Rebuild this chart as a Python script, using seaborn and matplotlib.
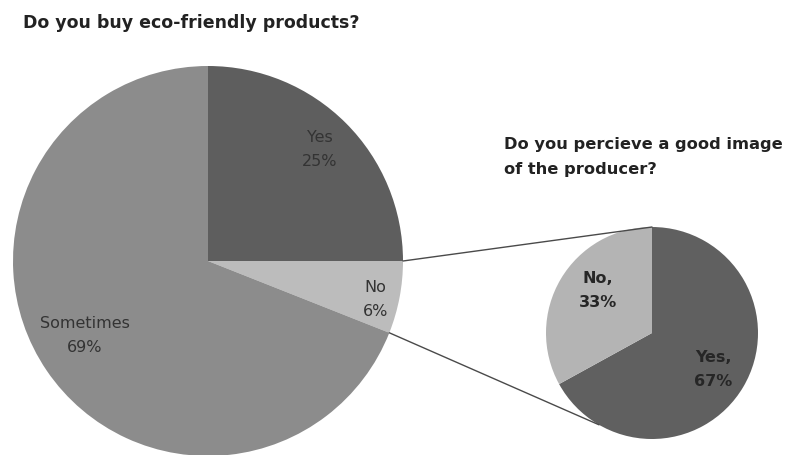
import numpy as np
import matplotlib
matplotlib.use("Agg")
import matplotlib.pyplot as plt
from matplotlib.patches import ConnectionPatch
import seaborn as sns

# Survey answers
main_labels = ["Yes", "No", "Sometimes"]
main_values = [25, 6, 69]
main_colors = ["#5e5e5e", "#bcbcbc", "#8c8c8c"]

image_labels = ["Yes,", "No,"]
image_values = [67, 33]
image_colors = ["#606060", "#b4b4b4"]

main_title = "Do you buy eco-friendly products?"
image_title = "Do you percieve a good image\nof the producer?"

sns.set_theme(style="white")
plt.rcParams["font.family"] = ["DejaVu Sans"]

W, H = 791, 455
fig = plt.figure(figsize=(W / 100, H / 100), dpi=100)
fig.patch.set_facecolor("white")


def px_axes(cx, cy, r):
    """Square axes holding a unit pie centred at pixel (cx, cy) with radius r."""
    ax = fig.add_axes([(cx - r) / W, (H - cy - r) / H, 2 * r / W, 2 * r / H])
    ax.set_xlim(-1, 1)
    ax.set_ylim(-1, 1)
    ax.axis("off")
    return ax


def place_labels(ax, wedges, labels, values, spots, **kw):
    # spots: (radial distance, angular offset in degrees from the wedge middle)
    for w, lab, val, (d, off) in zip(wedges, labels, values, spots):
        mid = np.deg2rad((w.theta1 + w.theta2) / 2 + off)
        ax.text(d * np.cos(mid), d * np.sin(mid), f"{lab}\n{val}%",
                ha="center", va="center", linespacing=1.75, **kw)


# Main pie
ax1 = px_axes(208, 261, 195)
w1, _ = ax1.pie(main_values, colors=main_colors, startangle=90,
                counterclock=False, radius=1,
                wedgeprops=dict(linewidth=0))
ax1.set_xlim(-1, 1)
ax1.set_ylim(-1, 1)
place_labels(ax1, w1, main_labels, main_values,
             [(0.81, 0), (0.88, -2), (0.74, -3)],
             color="#333333", fontsize=11.5)

# Secondary pie for the "No" slice breakdown
ax2 = px_axes(652, 333, 106)
w2, _ = ax2.pie(image_values, colors=image_colors, startangle=90,
                counterclock=False, radius=1,
                wedgeprops=dict(linewidth=0))
ax2.set_xlim(-1, 1)
ax2.set_ylim(-1, 1)
place_labels(ax2, w2, image_labels, image_values,
             [(0.67, 0), (0.65, -8)],
             color="#262626", fontsize=11.5, fontweight="bold")

# Connector lines from the "No" wedge to the secondary pie
no_wedge = w1[1]
for ang_main, ang_small in [(no_wedge.theta2, 90), (no_wedge.theta1, -120)]:
    a = np.deg2rad(ang_main)
    b = np.deg2rad(ang_small)
    con = ConnectionPatch(xyA=(np.cos(a), np.sin(a)), coordsA=ax1.transData,
                          xyB=(np.cos(b), np.sin(b)), coordsB=ax2.transData,
                          color="#4a4a4a", linewidth=1.0)
    fig.add_artist(con)

# Titles
fig.text(23 / W, 1 - 23 / H, main_title, ha="left", va="center",
         fontsize=12.5, fontweight="bold", color="#222222")
fig.text(504 / W, 1 - 157 / H, image_title, ha="left", va="center",
         fontsize=11.7, fontweight="bold", color="#222222", linespacing=1.85)

fig.savefig("out.png", dpi=100, facecolor="white")
